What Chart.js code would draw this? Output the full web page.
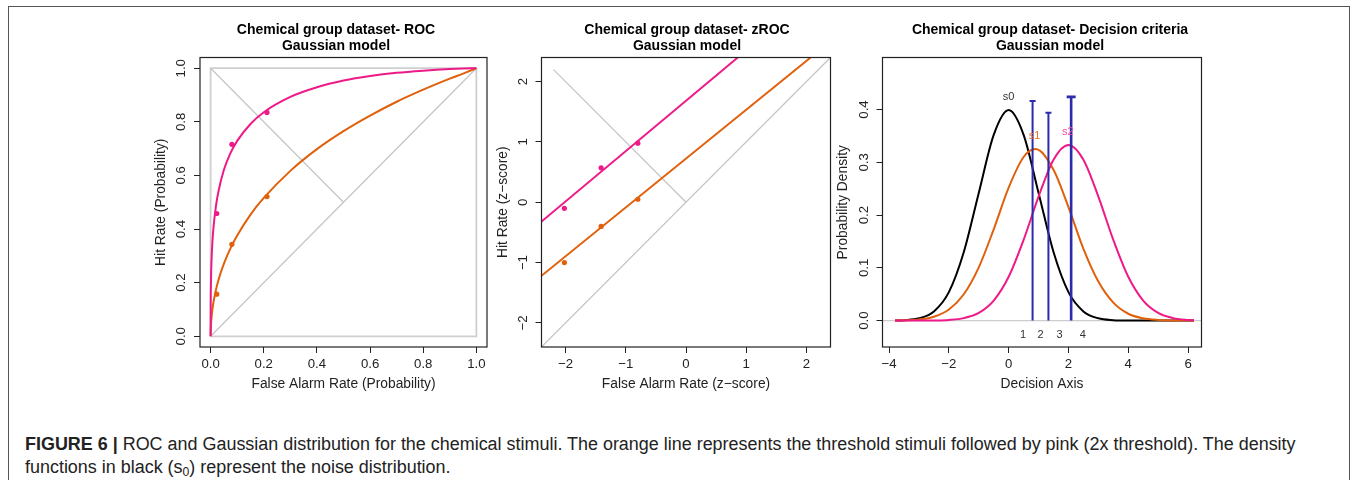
<!DOCTYPE html>
<html><head><meta charset="utf-8">
<script src="https://cdn.jsdelivr.net/npm/chart.js@4.4.1/dist/chart.umd.min.js"></script>
<style>
html,body{margin:0;padding:0;background:#fff;width:1354px;height:480px;overflow:hidden;font-family:"Liberation Sans",Arial,sans-serif;}
#frame{position:absolute;left:8px;top:6px;width:1342px;height:520px;border:1.5px solid #555;box-sizing:border-box;}
canvas{position:absolute;top:0;}
#caption{position:absolute;left:25px;top:433px;font-size:17.95px;line-height:23px;color:#222;white-space:nowrap;}
#caption sub{font-size:0.68em;vertical-align:-0.25em;line-height:0;}
</style></head>
<body>
<div id="frame"></div>
<canvas id="c1" width="412" height="400" style="left:130px"></canvas>
<canvas id="c2" width="394" height="400" style="left:490px"></canvas>
<canvas id="c3" width="430" height="400" style="left:835px"></canvas>
<div id="caption"><b>FIGURE 6 |</b> ROC and Gaussian distribution for the chemical stimuli. The orange line represents the threshold stimuli followed by pink (2x threshold). The density<br>functions in black (s<sub>0</sub>) represent the noise distribution.</div>
<script>
// ---------- tick labels ----------
const rocTicks = [0, 0.2, 0.4, 0.6, 0.8, 1.0];
const zTicks = [-2, -1, 0, 1, 2];
const decXTicks = [-4, -2, 0, 2, 4, 6];
const decYTicks = [0, 0.1, 0.2, 0.3, 0.4];

// ---------- ROC panel ----------
const rocFA = [0, 0.0002, 0.001, 0.005, 0.01, 0.02, 0.03, 0.05, 0.075, 0.1, 0.15, 0.2, 0.3, 0.4, 0.5, 0.6, 0.7, 0.8, 0.9, 0.95, 1];
const rocPink = [0, 0.101, 0.184, 0.319, 0.397, 0.486, 0.543, 0.621, 0.684, 0.729, 0.792, 0.836, 0.893, 0.929, 0.954, 0.971, 0.983, 0.991, 0.997, 0.999, 1];
const rocOrange = [0, 0.016, 0.0375, 0.086, 0.123, 0.173, 0.212, 0.271, 0.329, 0.376, 0.454, 0.516, 0.617, 0.698, 0.765, 0.823, 0.875, 0.920, 0.961, 0.980, 1];
const rocPtsFA = [0.023, 0.080, 0.212];
const rocPtsPink = [0.458, 0.716, 0.835];
const rocPtsOrange = [0.157, 0.343, 0.521];
const rocSquareX = [0, 1, 1, 0, 0];
const rocSquareY = [0, 0, 1, 1, 0];
const rocDiagX = [0, 1], rocDiagY = [0, 1];
const rocAntiX = [0, 0.5], rocAntiY = [1, 0.5];

// ---------- zROC panel ----------
const zPtsFA = [-2.02, -1.41, -0.80];
const zPtsPink = [-0.10, 0.57, 0.98];
const zPtsOrange = [-1.00, -0.40, 0.05];
const zFitPinkX = [-2.4, 0.86], zFitPinkY = [-0.32, 2.4];
const zFitOrangeX = [-2.4, 2.07], zFitOrangeY = [-1.22, 2.4];
const zDiagX = [-2.4, 2.4], zDiagY = [-2.4, 2.4];
const zAntiX = [-2.2, 0], zAntiY = [2.2, 0];

// ---------- Decision criteria panel ----------
const decX = [-3.8, -3.5, -3, -2.5, -2, -1.5, -1, -0.5, 0, 0.5, 1, 1.5, 2, 2.5, 3, 3.5, 4, 4.5, 5, 5.5, 6, 6.2];
const s0 = [0.0003, 0.0009, 0.0044, 0.0175, 0.054, 0.130, 0.242, 0.352, 0.399, 0.352, 0.242, 0.130, 0.054, 0.0175, 0.0044, 0.0009, 0.0001, 0, 0, 0, 0, 0];
const s2 = [0, 0, 0.0001, 0.0003, 0.0013, 0.0047, 0.0146, 0.038, 0.083, 0.153, 0.235, 0.305, 0.333, 0.305, 0.235, 0.153, 0.083, 0.038, 0.0146, 0.0047, 0.0013, 0.0007];
const s1X = [-3.8, -3.5, -3, -2.5, -2, -1.5, -1, -0.5, 0, 0.5, 0.9, 1.5, 2, 2.5, 3, 3.5, 4, 4.5, 5, 5.5, 6, 6.2];
const s1 = [0.0002, 0.0006, 0.0022, 0.0074, 0.021, 0.050, 0.101, 0.173, 0.252, 0.310, 0.325, 0.286, 0.215, 0.136, 0.074, 0.034, 0.013, 0.0043, 0.0012, 0.0003, 0.0001, 0];
const critX = [0.80, 1.33, 2.09];
const critTop = [0.416, 0.394, 0.424];
const curveLabels = ['s0', 's1', 's2'];
const curveLabelX = [0.0, 0.87, 1.98];
const curveLabelY = [0.424, 0.349, 0.357];
const regionLabels = ['1', '2', '3', '4'];
const regionLabelX = [0.48, 1.07, 1.70, 2.48];
const regionLabelY = -0.028;

// ---------- styling ----------
const PINK = '#ee1a88', ORANGE = '#e0600c', BLACK = '#000', BLUE = '#2b2bab', GRAY = '#c4c4c4';
Chart.defaults.font.family = '"Liberation Sans", Arial, sans-serif';
Chart.defaults.color = '#222';

const pts = (xs, ys) => xs.map((x, i) => ({x, y: ys[i]}));
const minusFmt = v => (v < 0 ? '\u2212' : '') + Math.abs(v);

function lineDs(xs, ys, color, width, extra) {
  return Object.assign({data: pts(xs, ys), showLine: true, borderColor: color, borderWidth: width,
    pointRadius: 0, fill: false, cubicInterpolationMode: 'monotone'}, extra || {});
}
function pointDs(xs, ys, color) {
  return {data: pts(xs, ys), showLine: false, pointRadius: 2.6, pointBackgroundColor: color,
    pointBorderColor: color, pointBorderWidth: 0};
}
const straight = {cubicInterpolationMode: 'default', tension: 0};

function axis(pos, min, max, ticks, fmt, fitSize, titleText, titlePad, tickPad) {
  const isY = pos === 'left';
  return {
    type: 'linear', position: pos, min: min, max: max,
    afterBuildTicks: s => { s.ticks = ticks.map(v => ({value: v})); },
    afterFit: s => { if (isY) s.width = fitSize; else s.height = fitSize; },
    grid: {display: true, drawOnChartArea: false, drawTicks: true, tickLength: 6, color: '#222', lineWidth: 1},
    border: {display: false},
    ticks: Object.assign({autoSkip: false, padding: tickPad, color: '#222', font: {size: 13.2}, callback: v => fmt(v)},
      isY ? {minRotation: 90, maxRotation: 90, crossAlign: 'center'} : {minRotation: 0, maxRotation: 0}),
    title: {display: true, text: titleText, color: '#222', font: {size: 13.8},
      padding: isY ? {top: titlePad, bottom: 0} : {top: 0, bottom: titlePad}}
  };
}
// empty spacer on the right so the chart title stays centred over the whole canvas
function spacer(width) {
  return {type: 'linear', position: 'right', display: true, grid: {display: false},
    ticks: {display: false}, border: {display: false}, title: {display: false},
    afterFit: s => { s.width = width; }};
}

const boxPlugin = {
  id: 'rbox',
  afterDatasetsDraw(chart) {
    const {ctx, chartArea: a} = chart;
    ctx.save();
    ctx.strokeStyle = '#222'; ctx.lineWidth = 1.2;
    ctx.strokeRect(a.left, a.top, a.right - a.left, a.bottom - a.top);
    ctx.restore();
  }
};

function makeChart(id, titleLines, datasets, xAxis, yAxis, rightPad, extraPlugins) {
  return new Chart(document.getElementById(id), {
    type: 'scatter',
    data: {datasets: datasets},
    options: {
      responsive: false, animation: false, events: [],
      layout: {padding: {left: 0, right: 0, top: 0, bottom: 3}},
      plugins: {
        legend: {display: false}, tooltip: {enabled: false},
        title: {display: true, text: titleLines, color: '#000',
          font: {size: 14, weight: 'bold', lineHeight: 1.15}, padding: {top: 22, bottom: 3.3}}
      },
      scales: {x: xAxis, y: yAxis, yR: spacer(rightPad)}
    },
    plugins: [boxPlugin].concat(extraPlugins || [])
  });
}

// Panel 1: ROC
makeChart('c1', ['Chemical group dataset- ROC', 'Gaussian model'], [
  pointDs(rocPtsFA, rocPtsPink, PINK),
  pointDs(rocPtsFA, rocPtsOrange, ORANGE),
  lineDs(rocFA, rocPink, PINK, 2),
  lineDs(rocFA, rocOrange, ORANGE, 2),
  lineDs(rocDiagX, rocDiagY, GRAY, 1.2, straight),
  lineDs(rocAntiX, rocAntiY, GRAY, 1.2, straight),
  lineDs(rocSquareX, rocSquareY, '#cfcfcf', 1.8, straight)
],
  axis('bottom', -0.04, 1.04, rocTicks, v => v.toFixed(1), 50, 'False Alarm Rate (Probability)', 4.7, 3),
  axis('left', -0.04, 1.04, rocTicks, v => v.toFixed(1), 70, 'Hit Rate (Probability)', 23.4, 3),
  55);

// Panel 2: zROC
makeChart('c2', ['Chemical group dataset- zROC', 'Gaussian model'], [
  pointDs(zPtsFA, zPtsPink, PINK),
  pointDs(zPtsFA, zPtsOrange, ORANGE),
  lineDs(zFitPinkX, zFitPinkY, PINK, 2, straight),
  lineDs(zFitOrangeX, zFitOrangeY, ORANGE, 2, straight),
  lineDs(zDiagX, zDiagY, GRAY, 1.2, straight),
  lineDs(zAntiX, zAntiY, GRAY, 1.2, straight)
],
  axis('bottom', -2.4, 2.4, zTicks, minusFmt, 50, 'False Alarm Rate (z\u2212score)', 4.7, 3),
  axis('left', -2.4, 2.4, zTicks, minusFmt, 51.5, 'Hit Rate (z\u2212score)', 5, 4.5),
  53.5);

// Panel 3: Decision criteria
const decisionPlugin = {
  id: 'decisionExtras',
  beforeDatasetsDraw(chart) {
    const {ctx, chartArea: a, scales: {y}} = chart;
    const py = y.getPixelForValue(0);
    ctx.save();
    ctx.strokeStyle = '#cccccc'; ctx.lineWidth = 1.2;
    ctx.beginPath(); ctx.moveTo(a.left, py); ctx.lineTo(a.right, py); ctx.stroke();
    ctx.restore();
  },
  afterDatasetsDraw(chart) {
    const {ctx, scales: {x, y}} = chart;
    ctx.save();
    ctx.textAlign = 'center'; ctx.textBaseline = 'middle';
    ctx.font = '11px "Liberation Sans", Arial, sans-serif';
    const labelColors = ['#333', '#f06a25', '#f04a9c'];
    curveLabels.forEach((t, i) => {
      ctx.fillStyle = labelColors[i];
      ctx.fillText(t, x.getPixelForValue(curveLabelX[i]), y.getPixelForValue(curveLabelY[i]));
    });
    ctx.fillStyle = '#333';
    regionLabels.forEach((t, i) => {
      ctx.fillText(t, x.getPixelForValue(regionLabelX[i]), y.getPixelForValue(regionLabelY));
    });
    ctx.restore();
  }
};
const critDs = critX.map((cx, i) => ({
  data: [{x: cx, y: 0}, {x: cx, y: critTop[i]}], showLine: true, borderColor: BLUE,
  borderWidth: i === 2 ? 2.6 : 2, pointRadius: [0, i === 2 ? 4.5 : 3], pointStyle: 'line',
  pointBorderColor: BLUE, pointBorderWidth: i === 2 ? 2.6 : 2, tension: 0
}));
makeChart('c3', ['Chemical group dataset- Decision criteria', 'Gaussian model'], critDs.concat([
  lineDs(decX, s2, PINK, 2),
  lineDs(s1X, s1, ORANGE, 2),
  lineDs(decX, s0, BLACK, 2)
]),
  axis('bottom', -4.22, 6.45, decXTicks, minusFmt, 50, 'Decision Axis', 4.7, 3),
  axis('left', -0.05, 0.4986, decYTicks, v => v.toFixed(1), 47.5, 'Probability Density', 0, 2.5),
  63.5, [decisionPlugin]);
</script>
</body></html>
